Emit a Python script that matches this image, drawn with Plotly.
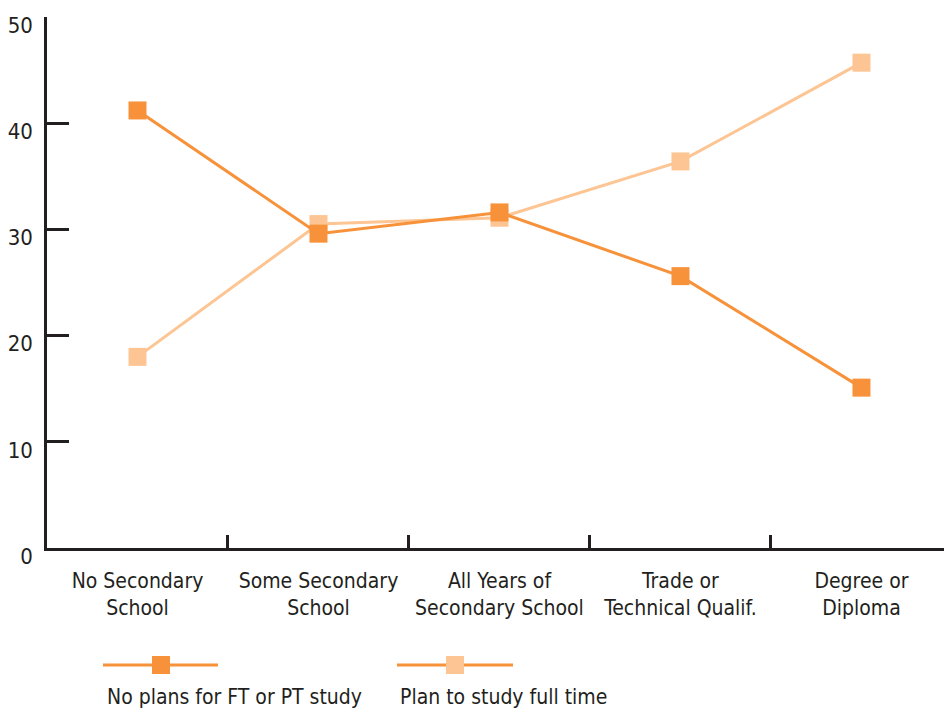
import plotly.graph_objects as go

categories = ["No Secondary<br>School", "Some Secondary<br>School", "All Years of<br>Secondary School",
              "Trade or<br>Technical Qualif.", "Degree or<br>Diploma"]
no_plans = [41.2, 29.6, 31.6, 25.6, 15.1]
plan_full_time = [18.0, 30.5, 31.1, 36.4, 45.7]
series_names = ["No plans for FT or PT study", "Plan to study full time"]
y_ticks = [0, 10, 20, 30, 40, 50]

DARK = "#F7923A"
LIGHT = "#FDC593"
INK = "#231F20"
FONT = "DejaVu Sans Condensed, Liberation Sans Narrow, Roboto, sans-serif"

W, H = 944, 713
L, R, T, B = 47, 0, 17, 165
pw, ph = W - L - R, H - T - B

fig = go.Figure()
fig.add_trace(go.Scatter(x=categories, y=plan_full_time, mode="lines+markers", name=series_names[1],
                         line=dict(color=LIGHT, width=3),
                         marker=dict(symbol="square", size=18, color=LIGHT, line=dict(width=0))))
fig.add_trace(go.Scatter(x=categories, y=no_plans, mode="lines+markers", name=series_names[0],
                         line=dict(color=DARK, width=3),
                         marker=dict(symbol="square", size=18, color=DARK, line=dict(width=0))))


def px_x(x):
    return (x - L) / pw


def px_y(y):
    return (H - B - y) / ph


# Hand-built legend below the plot: line + square marker, label underneath
legend_items = [(103, 218, 161, DARK, 105), (397, 513, 455, LIGHT, 398)]
shapes = []
annotations = []
for (x0, x1, mx, mcol, tx), name in zip(legend_items, series_names):
    shapes.append(dict(type="line", xref="paper", yref="paper", x0=px_x(x0), x1=px_x(x1),
                       y0=px_y(665), y1=px_y(665), line=dict(color=DARK, width=3)))
    shapes.append(dict(type="rect", xref="paper", yref="paper", x0=px_x(mx - 9), x1=px_x(mx + 9),
                       y0=px_y(674), y1=px_y(656), fillcolor=mcol, line=dict(width=0)))
    annotations.append(dict(xref="paper", yref="paper", x=px_x(tx), y=px_y(697), text=name,
                            showarrow=False, xanchor="left", yanchor="middle",
                            font=dict(family=FONT, size=21, color=INK)))

fig.update_layout(
    width=W, height=H,
    margin=dict(l=L, r=R, t=T, b=B),
    paper_bgcolor="white", plot_bgcolor="white",
    showlegend=False,
    font=dict(family=FONT, size=21, color=INK),
    shapes=shapes, annotations=annotations,
    xaxis=dict(type="category", range=[-0.5, 4.456], showline=True, linecolor=INK, linewidth=2.5,
               ticks="inside", tickson="boundaries", ticklen=13, tickwidth=2.5, tickcolor=INK,
               showgrid=False, zeroline=False, ticklabelstandoff=12, tickangle=0,
               tickfont=dict(family=FONT, size=21, color=INK)),
    yaxis=dict(range=[0, 50], tickvals=y_ticks, showline=True, linecolor=INK, linewidth=2.5,
               ticks="inside", ticklen=22, tickwidth=2.5, tickcolor=INK,
               showgrid=False, zeroline=False, ticklabelstandoff=7, ticklabelshift=8,
               tickfont=dict(family=FONT, size=22, color=INK)),
)

fig.write_html("out.html")
